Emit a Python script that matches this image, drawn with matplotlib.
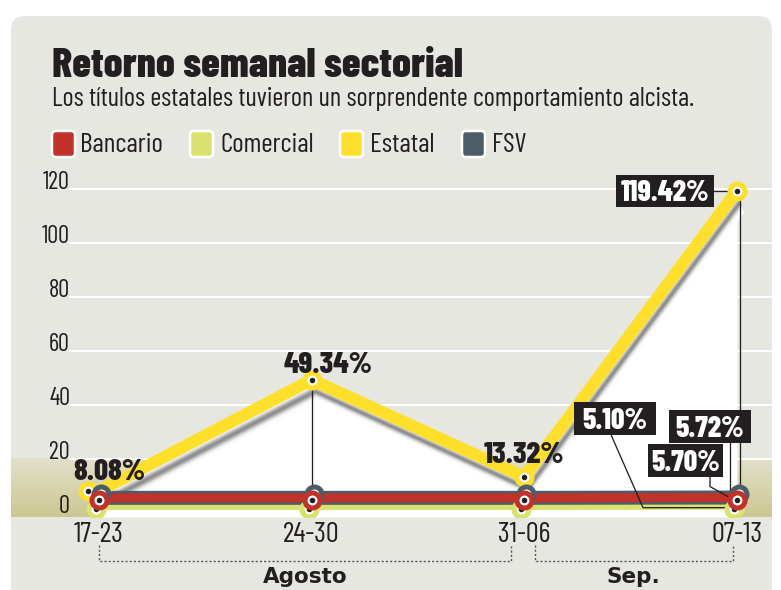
import numpy as np
import matplotlib
matplotlib.use('Agg')
import matplotlib.pyplot as plt
from matplotlib import font_manager
from matplotlib.patches import FancyBboxPatch, Rectangle
from matplotlib.transforms import ScaledTranslation, IdentityTransform
from matplotlib.colors import LinearSegmentedColormap

# ---------------- data ----------------
weeks = ['17-23', '24-30', '31-06', '07-13']
months = ['Agosto', 'Sep.']
estatal = [8.08, 49.34, 13.32, 119.42]
bancario = [5.6, 5.6, 5.6, 5.70]
fsv = [5.6, 5.6, 5.6, 5.72]
comercial = [5.0, 5.0, 5.0, 5.10]
series_names = ['Bancario', 'Comercial', 'Estatal', 'FSV']
yticks = [0, 20, 40, 60, 80, 100, 120]
title = 'Retorno semanal sectorial'
subtitle = 'Los títulos estatales tuvieron un sorprendente comportamiento alcista.'

# ---------------- style ----------------
W, H, DPI = 781, 590, 100
PANEL = '#e7e7e2'
DARK = '#231f20'
C_BAN = '#c1322a'
C_COM = '#d9e26c'
C_EST = '#fee02b'
C_FSV = '#4b5d69'
colors = [C_BAN, C_COM, C_EST, C_FSV]


def wnum(w):
    if isinstance(w, (int, float)):
        return int(w)
    return font_manager.weight_dict.get(w, 400)


allfonts = [(f.name, wnum(f.weight), f.fname) for f in font_manager.fontManager.ttflist
            if f.style == 'normal']


def find_font(names, weight):
    for nm in names:
        c = [f for f in allfonts if f[0] == nm]
        if c:
            return min(c, key=lambda f: abs(f[1] - weight))[2]
    return None


HEAVY = find_font(['Barlow Condensed', 'Asap Condensed', 'Archivo Narrow'], 800)
REG = find_font(['Barlow Condensed', 'Asap Condensed', 'Archivo Narrow'], 400)


def fp(path, size, fallback_weight='normal'):
    if path:
        return font_manager.FontProperties(fname=path, size=size)
    return font_manager.FontProperties(family='Roboto', weight=fallback_weight, size=size)


def px(v):
    return v * 72.0 / DPI


def fx(x):
    return x / W


def fy(y):
    return 1 - y / H


fig = plt.figure(figsize=(W / DPI, H / DPI), dpi=DPI)
fig.patch.set_facecolor('white')
renderer = fig.canvas.get_renderer()


def size_for(text, path, target_w, weight='normal'):
    t = fig.text(0, 0, text, fontproperties=fp(path, 20, weight))
    w = t.get_window_extent(renderer).width
    t.remove()
    return 20 * target_w / w


panel = FancyBboxPatch((11, -30), 772 - 11, (H - 16) + 30,
                       boxstyle='round,pad=0,rounding_size=14',
                       transform=IdentityTransform(), fc=PANEL, ec='none', zorder=0)
fig.add_artist(panel)

fig.text(fx(52), fy(77), title, fontproperties=fp(HEAVY, size_for(title, HEAVY, 410, 'black'), 'black'),
         color=DARK, va='baseline', ha='left')
fig.text(fx(52), fy(106), subtitle, fontproperties=fp(REG, size_for(subtitle, REG, 641)),
         color=DARK, va='baseline', ha='left')

leg_size = size_for('Bancario', REG, 83)
leg_sq_x = [52, 190, 340, 462]
leg_tx_x = [80, 220, 370, 492]
for name, col, sx, tx in zip(series_names, colors, leg_sq_x, leg_tx_x):
    sq = FancyBboxPatch((sx, H - 157), 23, 26, boxstyle='round,pad=0,rounding_size=4',
                        transform=IdentityTransform(), fc=col, ec='white', lw=px(2.5), zorder=2)
    fig.add_artist(sq)
    fig.text(fx(tx), fy(152), name, fontproperties=fp(REG, leg_size),
             color=DARK, va='baseline', ha='left')

# ---------------- axes ----------------
PPU_X = 212.67
X0PX = 99
XL0 = (11 - X0PX) / PPU_X
XL1 = (772 - X0PX) / PPU_X
YL0, YL1 = -1.5, 130
ax = fig.add_axes([fx(11), fy(517), (772 - 11) / W, (517 - 162) / H])
ax.patch.set_alpha(0)
for s in ax.spines.values():
    s.set_visible(False)
ax.set_xlim(XL0, XL1)
ax.set_ylim(YL0, YL1)

x = np.arange(len(weeks))


def off(dx, dy):
    return ax.transData + ScaledTranslation(dx / DPI, dy / DPI, fig.dpi_scale_trans)


def px2data(xi, yi, dx, dy):
    bx, by = ax.transData.transform((xi, yi))
    return ax.transData.inverted().transform((bx + dx, by + dy))


# olive band 0-20
grad = np.linspace(0, 1, 256).reshape(-1, 1)
cmap = LinearSegmentedColormap.from_list('olive', ['#ccc790', '#e2e0cb'])
ax.imshow(grad, extent=[XL0, XL1, YL0, 20], origin='lower', aspect='auto', cmap=cmap, zorder=0.5)

for yv in yticks[1:]:
    ax.axhline(yv, xmin=(70 - 11) / (772 - 11), xmax=1, color='white', lw=px(2), zorder=1)

# white area under Estatal
ax.fill_between(x, estatal, YL0, color='white', lw=0, zorder=2)

# soft shadow under Estatal line
for d in np.arange(4, 23, 1.0):
    g = 1 - 0.45 * np.exp(-((d - 12) / 3.8) ** 2)
    ax.plot(x, estatal, color=(g, g, g), lw=px(1.6), transform=off(3.0 * d / 11.0, -d),
            solid_joinstyle='round', solid_capstyle='round', zorder=3)

# vertical leaders
ax.plot([x[1], x[1]], [estatal[1], fsv[1]], color=DARK, lw=px(1.3), zorder=3.5)
ax.plot([x[3], x[3]], [estatal[3], YL0], color=DARK, lw=px(1.3), zorder=3.5, transform=off(3, 0))

# flat series
ax.plot(x, comercial, color=C_COM, lw=px(10), transform=off(0, -5.5), solid_capstyle='butt', zorder=4)
ax.plot(x, fsv, color=C_FSV, lw=px(14), solid_capstyle='butt', zorder=5)
ax.plot(x, bancario, color=C_BAN, lw=px(9), solid_capstyle='butt', zorder=6)

# Estatal line
ax.plot(x, estatal, color=C_EST, lw=px(12), solid_joinstyle='round', solid_capstyle='round', zorder=7)


def ring(xs, ys, col, dx, dy, z):
    t = off(dx, dy)
    ax.plot(xs, ys, ls='none', marker='o', ms=px(15), mfc='white', mec=col, mew=px(5),
            transform=t, zorder=z)
    ax.plot(xs, ys, ls='none', marker='o', ms=px(5.5), mfc=DARK, mec='none',
            transform=t, zorder=z + 0.01)


ring(x[:1], estatal[:1], C_EST, -11, 0, 8)
ring(x[1:], estatal[1:], C_EST, 0, 0, 8)
ring(x, fsv, C_FSV, 2, 3.5, 9)
ring(x, comercial, C_COM, -3, -9.5, 9.5)
ring(x, bancario, C_BAN, 0, -2.5, 10)


def leader(xi, yi, pts, z=7.5):
    dat = np.array([px2data(xi, yi, dx, dy) for dx, dy in pts])
    ax.plot(dat[:, 0], dat[:, 1], color=DARK, lw=px(1.3), zorder=z, solid_joinstyle='miter')


leader(x[3], comercial[3], [(-126, 64.5), (-94, -8.5), (-9, -8.5)])
leader(x[3], fsv[3], [(-7, 55), (-7, 8)])
leader(x[3], bancario[3], [(-27, 21), (-27, 11), (-9, 1)])
leader(x[3], estatal[3], [(-23, 0), (-8, 0)])

# plain value labels (baseline offsets in pixels)
plain_size = size_for('49.34%', HEAVY, 82, 'black') * 1.08
plain = [(0, estatal[0], 10, 11), (1, estatal[1], 16, 7), (2, estatal[2], 0, 14)]
for xi, v, dx, dy in plain:
    ax.annotate(f'{v:.2f}%', (x[xi], v), xytext=(dx, dy), textcoords='offset pixels',
                ha='center', va='baseline', zorder=12,
                fontproperties=fp(HEAVY, plain_size, 'black'), color=DARK)

# boxed value labels: (value, box centre dx, dy, box width, box height) in pixels
box_size = size_for('119.42%', HEAVY, 85, 'black') * 1.04
cap = 0.70 * box_size * DPI / 72.0
boxed = [(estatal[3], -72, 0, 98, 32), (comercial[3], -122, 81, 82, 33),
         (fsv[3], -27, 71.4, 82, 33), (bancario[3], -51.5, 37.4, 75, 33)]
for v, dx, dy, bw, bh in boxed:
    x0, y0 = px2data(x[3], v, dx - bw / 2, dy - bh / 2)
    x1, y1 = px2data(x[3], v, dx + bw / 2, dy + bh / 2)
    ax.add_patch(Rectangle((x0, y0), x1 - x0, y1 - y0, fc=DARK, ec='none', zorder=11))
    ax.annotate(f'{v:.2f}%', (x[3], v), xytext=(dx, dy - cap / 2), textcoords='offset pixels',
                ha='center', va='baseline', zorder=12,
                fontproperties=fp(HEAVY, box_size, 'black'), color='white')

# ticks
ytick_size = size_for('120', REG, 27)
ax.set_yticks(yticks)
ax.set_yticklabels([str(t) for t in yticks])
ax.tick_params(axis='y', length=0, pad=-px(70 - 11), labelcolor=DARK)
for t in ax.get_yticklabels():
    t.set_fontproperties(fp(REG, ytick_size))
    t.set_va('baseline')
xtick_size = size_for('17-23', REG, 50)
ax.set_xticks(x)
ax.set_xticklabels(weeks)
ax.tick_params(axis='x', length=0, pad=px(5), labelcolor=DARK)
for t in ax.get_xticklabels():
    t.set_fontproperties(fp(REG, xtick_size))

# month brackets
yb0 = (517 - 545) / (517 - 162)
yb1 = (517 - 561) / (517 - 162)
spans = [(x[0], x[2] - 0.065), (x[2] + 0.05, x[3] - 0.02)]
for (a, b), m in zip(spans, months):
    tr = ax.get_xaxis_transform()
    ax.plot([a, a, b, b], [yb0, yb1, yb1, yb0], transform=tr, color='#555555', lw=px(1.4),
            ls=(0, (1.5, 1.5)), clip_on=False, zorder=5)
    ax.text((a + b) / 2, (517 - 583) / (517 - 162), m, transform=tr, ha='center', va='baseline',
            fontsize=15.5, fontweight='bold', family='DejaVu Sans', color=DARK)

fig.savefig('out.png', dpi=DPI, facecolor='white')
